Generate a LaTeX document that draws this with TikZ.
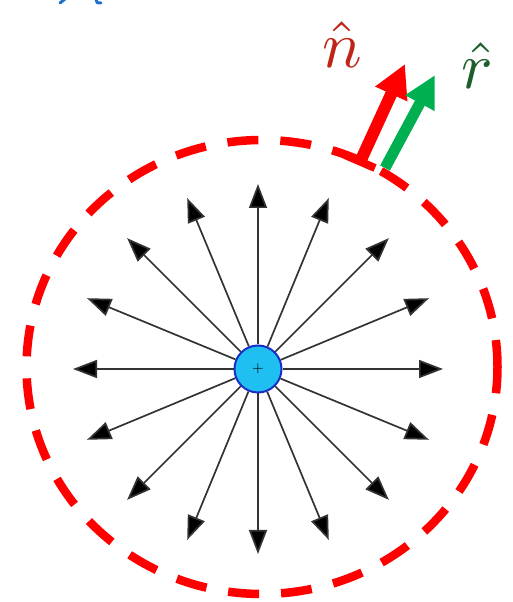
\documentclass[tikz,border=0pt]{standalone}
\usepackage{graphicx}
\usetikzlibrary{arrows.meta}
\definecolor{nred}{HTML}{BF2418}
\definecolor{rgreen}{HTML}{1E5E2C}
\definecolor{arrred}{HTML}{FF0000}
\definecolor{arrgreen}{HTML}{00B050}
\definecolor{qfill}{HTML}{1FBFF2}
\definecolor{qedge}{HTML}{1A2FC8}
\definecolor{topblue}{HTML}{1E6FD0}
\begin{document}
\begin{tikzpicture}[x=1pt,y=1pt,
  surface/.style={draw=arrred, line width=8.5pt, dash pattern=on 31pt off 22pt, dash phase=4pt},
  field/.style={draw=black!80, line width=1.7pt, -{Triangle[length=24pt,width=18pt,fill=black]}},
  charge/.style={circle, minimum size=47pt, inner sep=0pt, fill=qfill, draw=qedge, line width=2pt},
  unitred/.style={draw=arrred, line width=12pt, -{Triangle[length=33pt,width=33pt]}},
  unitgreen/.style={draw=arrgreen, line width=11pt, -{Triangle[length=32pt,width=31pt]}},
  lbl/.style={anchor=base west, inner sep=0pt}]
\useasboundingbox (0,0) rectangle (512,602);
% Gaussian surface
\draw[surface] (262,235) ellipse [x radius=235.5, y radius=227];
% point charge and field lines
\node[charge] (q) at (258,233) {\scalebox{1.5}{$+$}};
\foreach \i [evaluate=\i as \a using \i*22.5] in {0,...,15} {
  \coordinate (t\i) at ([shift={(\a:185)}]q.center);
  \draw[field] (q.\a) -- (t\i);
}
% unit normal n-hat
\coordinate (bara) at (345,447);
\coordinate (barb) at (375,434);
\coordinate (nb) at (360,440);
\coordinate (nt) at (405,538);
\draw[draw=arrred, line width=8pt] (bara) -- (barb);
\draw[unitred] (nb) -- (nt);
% unit radial r-hat
\coordinate (rb) at (385,434);
\coordinate (rt) at (435,527);
\draw[unitgreen] (rb) -- (rt);
% labels
\node[lbl, text=nred] (nlab) at (322,534) {\scalebox{6.6}{$\hat{n}$}};
\node[lbl, text=rgreen] (rlab) at (461,513) {\scalebox{6.6}{$\hat{r}$}};
% cropped blue fragments at the top edge
\draw[topblue, line width=3pt, line cap=round] (60,599) -- (65,603);
\draw[topblue, line width=3pt, line cap=round] (96,603) .. controls (97,599) .. (101,599);
\end{tikzpicture}
\end{document}
